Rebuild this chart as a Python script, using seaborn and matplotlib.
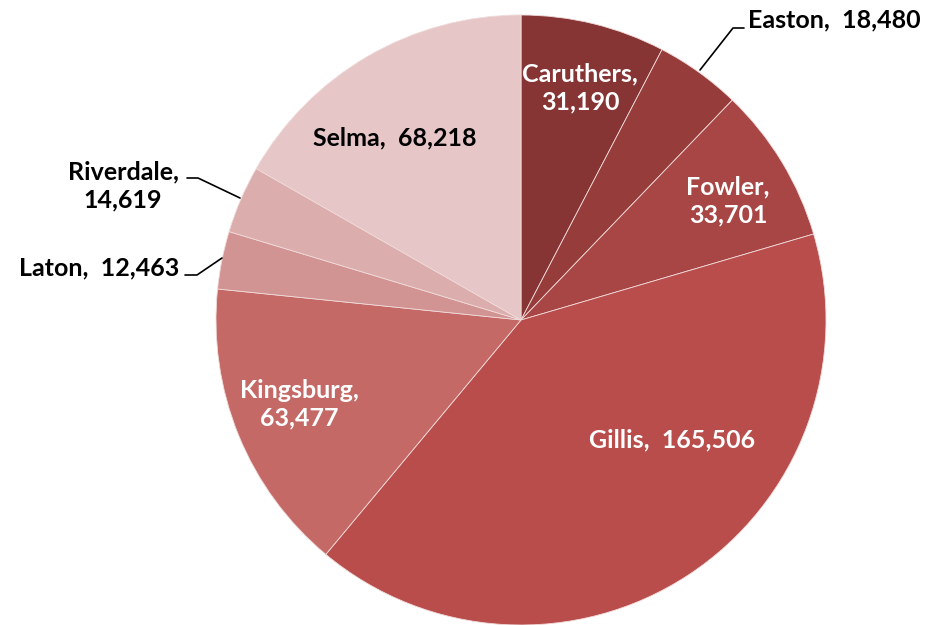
import matplotlib
matplotlib.use("Agg")
import matplotlib.pyplot as plt
import seaborn as sns

sns.set_theme(style="white")
plt.rcParams['font.family'] = ['Lato', 'DejaVu Sans']

categories = ["Caruthers", "Easton", "Fowler", "Gillis", "Kingsburg", "Laton", "Riverdale", "Selma"]
values = [31190, 18480, 33701, 165506, 63477, 12463, 14619, 68218]
colors = ["#873434", "#963C3A", "#A84645", "#B84D4B", "#C46966", "#D19492", "#DBADAC", "#E6C6C6"]

W, H = 946, 625
fig = plt.figure(figsize=(W / 100, H / 100), dpi=100)
cx, cy, r = 521, 320, 305
ax = fig.add_axes([(cx - r) / W, (H - cy - r) / H, 2 * r / W, 2 * r / H])
ax.pie(values, colors=colors, startangle=90, counterclock=False, radius=1,
       wedgeprops=dict(edgecolor="#f0dada", linewidth=0.6))
ax.set_xlim(-1, 1)
ax.set_ylim(-1, 1)
ax.set_aspect("equal")
ax.axis("off")

def d(px, py):
    return ((px - cx) / r, (cy - py) / r)

fs = 18
def fmt(v):
    return f"{v:,}"

two_line = {"Caruthers": (580, 88), "Fowler": (728, 201), "Kingsburg": (299, 404), "Riverdale": (123, 186)}
one_line = {"Gillis": (672, 440), "Selma": (395, 138), "Laton": (99, 268)}
text_color = {"Caruthers": "white", "Fowler": "white", "Kingsburg": "white", "Gillis": "white",
              "Selma": "black", "Laton": "black", "Riverdale": "black", "Easton": "black"}
for name, v in zip(categories, values):
    if name in two_line:
        x, y = d(*two_line[name])
        ax.text(x, y, f"{name},\n{fmt(v)}", ha="center", va="center", fontsize=fs,
                fontweight="bold", color=text_color[name], linespacing=1.25, clip_on=False)
    elif name in one_line:
        x, y = d(*one_line[name])
        ax.text(x, y, f"{name},  {fmt(v)}", ha="center", va="center", fontsize=fs,
                fontweight="bold", color=text_color[name], clip_on=False)
    elif name == "Easton":
        x, y = d(748, 20)
        ax.text(x, y, f"{name},  {fmt(v)}", ha="left", va="center", fontsize=fs,
                fontweight="bold", color=text_color[name], clip_on=False)

leaders = [
    [(700, 70), (733, 28), (744, 28)],
    [(185, 275), (197, 275), (222, 258)],
    [(187, 178), (198, 178), (240, 198)],
]
for pts in leaders:
    xs, ys = zip(*[d(*p) for p in pts])
    ax.plot(xs, ys, color="black", lw=1.2, clip_on=False)

fig.savefig("out.png", dpi=100)
